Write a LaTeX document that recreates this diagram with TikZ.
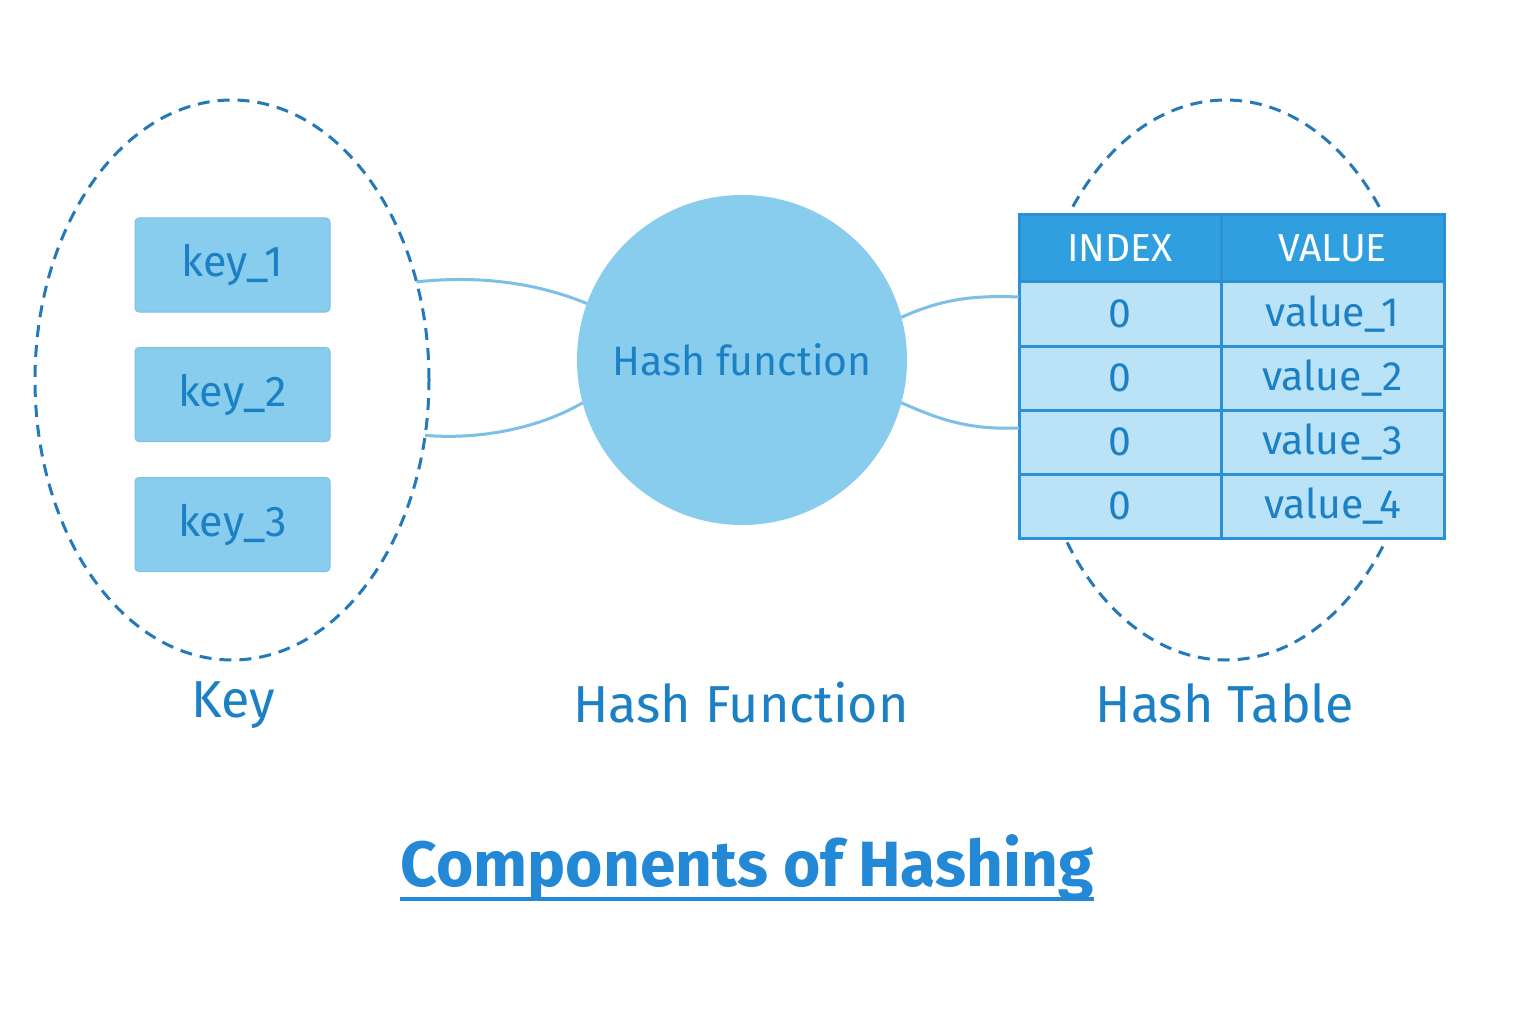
\documentclass[tikz,border=0pt]{standalone}
\usepackage{fontspec}
\setmainfont{Fira Sans}
\usetikzlibrary{shapes.geometric}
\definecolor{txtblue}{HTML}{1B80C4}
\definecolor{dashblue}{HTML}{2479B8}
\definecolor{lightfill}{HTML}{88CCEE}
\definecolor{connblue}{HTML}{7CC0E8}
\definecolor{headfill}{HTML}{2F9FE0}
\definecolor{rowfill}{HTML}{BAE3F8}
\definecolor{tblborder}{HTML}{2C90D5}
\definecolor{titleblue}{HTML}{2389D6}
\tikzset{
  groupell/.style={ellipse, draw=dashblue, dash pattern=on 12pt off 8pt, line width=3pt, inner sep=0pt, outer sep=0pt},
  keybox/.style={rectangle, rounded corners=4pt, fill=lightfill, draw=lightfill!90!black!60!lightfill, line width=1pt, minimum width=195pt, minimum height=94pt, inner sep=0pt, text=txtblue, font=\fontsize{43}{47}\selectfont},
  conn/.style={draw=connblue, line width=3pt},
  hcell/.style={rectangle, draw=tblborder, fill=headfill, line width=3pt, minimum height=67pt, inner sep=0pt, text=white, font=\fontsize{39}{43}\selectfont},
  rcell/.style={rectangle, draw=tblborder, fill=rowfill, line width=3pt, minimum height=64pt, inner sep=0pt, text=txtblue, font=\fontsize{41}{45}\selectfont},
  caption/.style={text=txtblue, font=\fontsize{52}{56}\selectfont, inner sep=0pt},
}
\begin{document}
\begin{tikzpicture}[x=1pt,y=-1pt]
\useasboundingbox[fill=white] (0,0) rectangle (1536,1024);
% left group
\node[groupell, minimum width=394pt, minimum height=560pt] (kset) at (232,380) {};
\node[keybox] (k1) at (232.5,265) {key\_1};
\node[keybox] (k2) at (232.5,394.5) {key\_2};
\node[keybox] (k3) at (232.5,524.5) {key\_3};
% right group ellipse
\node[groupell, minimum width=390pt, minimum height=560pt] (tset) at (1226,380) {};
% hash function circle
\node[circle, fill=lightfill, minimum size=330pt, inner sep=0pt, outer sep=0pt, text=txtblue, font=\fontsize{41}{45}\selectfont] (hf) at (742,360) {Hash function};
% table
\node[hcell, minimum width=202pt] (hi) at (1120,248.5) {INDEX};
\node[hcell, minimum width=223pt] (hv) at (1332.5,248.5) {VALUE};
\foreach \i/\y in {1/314,2/378,3/442,4/506}{
  \node[rcell, minimum width=202pt] (r\i i) at (1120,\y) {0};
  \node[rcell, minimum width=223pt] (r\i v) at (1332.5,\y) {value\_\i};
}
\coordinate (t1) at (1019,297);
\coordinate (t2) at (1019,428);
% connectors
\draw[conn] (kset.28) .. controls (470,276) and (530,280) .. (hf.160);
\draw[conn] (kset.-16) .. controls (480,440) and (540,428) .. (hf.195);
\draw[conn] (hf.15) .. controls (940,300) and (970,295) .. (t1);
\draw[conn] (hf.-15) .. controls (940,420) and (970,430) .. (t2);
% captions
\node[caption] (capk) at (233,705) {Key};
\node[caption] (caph) at (741,703) {Hash Function};
\node[caption] (capt) at (1225,703) {Hash Table};
% title
\node[text=titleblue, font=\fontsize{64}{68}\selectfont\bfseries, inner sep=0pt] (title) at (747,868) {Components of Hashing};
\draw[titleblue, line width=3.5pt] ([yshift=-12pt]title.base west) -- ([yshift=-12pt]title.base east);
\end{tikzpicture}
\end{document}
